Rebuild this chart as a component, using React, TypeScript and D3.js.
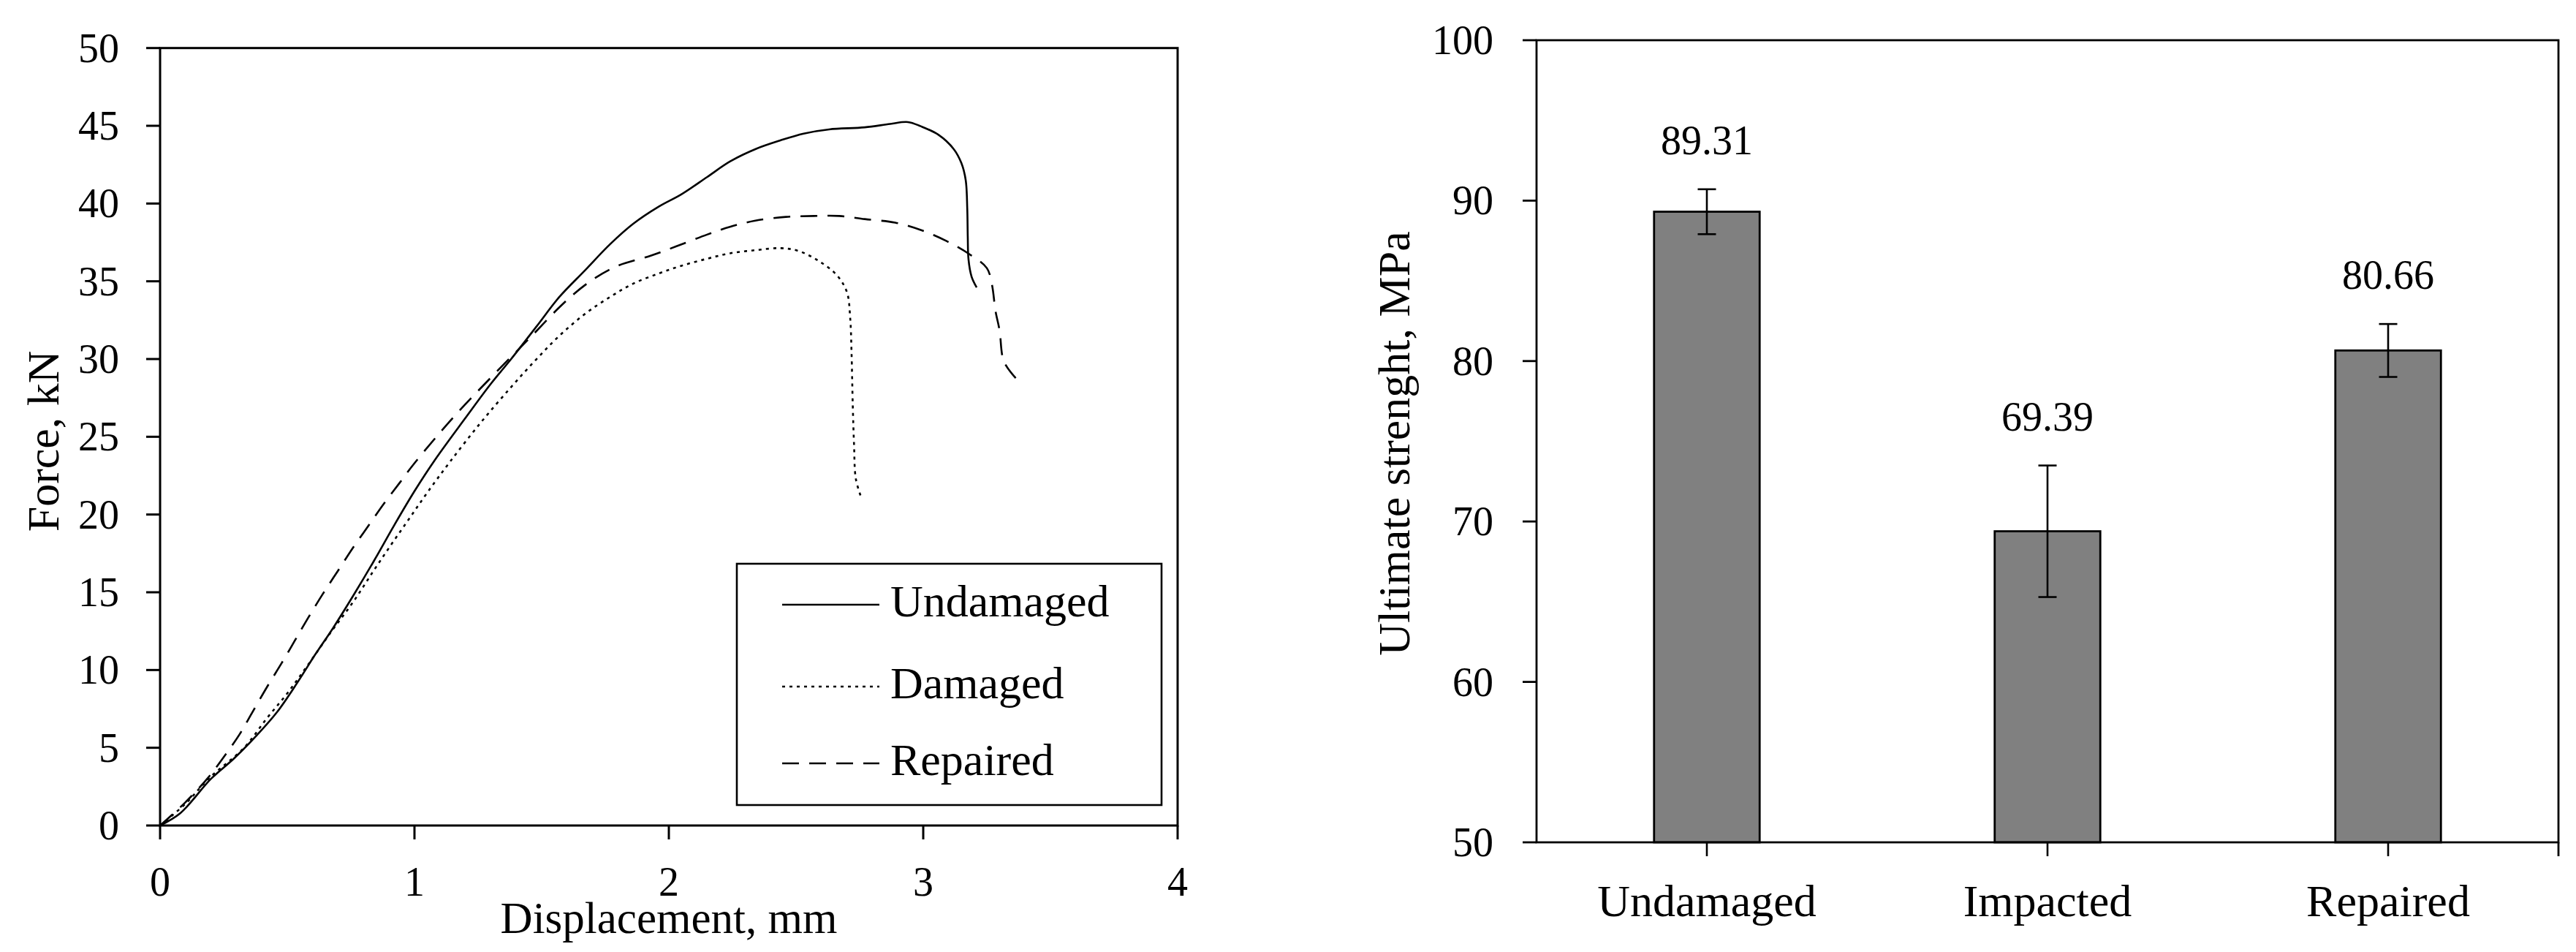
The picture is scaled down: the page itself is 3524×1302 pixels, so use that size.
import React from "react";
import * as d3 from "d3";

// ---------- Left chart data (Displacement mm, Force kN) ----------
const undamaged: [number, number][] = [
  [0, 0], [0.08, 0.8], [0.2, 3.0], [0.29, 4.3], [0.38, 5.8], [0.46, 7.3], [0.54, 9.2],
  [0.61, 11.0], [0.68, 12.7], [0.76, 14.8], [0.84, 17.0], [0.92, 19.3], [1.0, 21.5],
  [1.08, 23.5], [1.2, 26.2], [1.3, 28.4], [1.38, 30.0], [1.48, 32.1], [1.57, 34.0],
  [1.67, 35.7], [1.77, 37.4], [1.86, 38.7], [1.96, 39.8], [2.05, 40.6], [2.15, 41.7],
  [2.24, 42.7], [2.34, 43.5], [2.44, 44.07], [2.53, 44.5], [2.63, 44.77], [2.77, 44.9],
  [2.87, 45.12], [2.94, 45.24], [2.99, 44.97], [3.06, 44.42], [3.12, 43.5], [3.15, 42.6],
  [3.167, 41.5], [3.173, 39.7], [3.175, 37.9], [3.178, 36.4], [3.19, 35.3], [3.21, 34.6],
];

const damaged: [number, number][] = [
  [0, 0], [0.1, 1.4], [0.19, 3.0], [0.33, 5.0], [0.42, 6.9], [0.5, 8.5], [0.58, 10.3],
  [0.67, 12.4], [0.76, 14.4], [0.84, 16.4], [0.91, 18.1], [0.98, 19.75], [1.05, 21.4],
  [1.14, 23.4], [1.26, 25.9], [1.38, 28.2], [1.48, 30.0], [1.57, 31.5], [1.67, 32.9],
  [1.77, 34.0], [1.86, 34.85], [1.96, 35.5], [2.05, 36.0], [2.15, 36.45], [2.24, 36.8],
  [2.34, 37.0], [2.44, 37.13], [2.51, 36.95], [2.59, 36.3], [2.66, 35.4], [2.7, 34.3],
  [2.713, 32.6], [2.718, 30.5], [2.723, 27.0], [2.728, 24.5], [2.735, 22.3], [2.756, 21.1],
];

const repaired: [number, number][] = [
  [0, 0], [0.1, 1.5], [0.19, 3.1], [0.25, 4.4], [0.31, 5.8], [0.36, 7.2], [0.42, 8.9],
  [0.48, 10.5], [0.53, 11.9], [0.58, 13.3], [0.64, 14.9], [0.7, 16.4], [0.76, 17.9],
  [0.82, 19.3], [0.88, 20.7], [0.94, 22.0], [1.0, 23.3], [1.15, 26.2], [1.3, 28.8],
  [1.45, 31.3], [1.6, 33.8], [1.7, 35.1], [1.8, 36.0], [1.92, 36.6], [2.03, 37.25],
  [2.15, 38.0], [2.24, 38.5], [2.34, 38.9], [2.46, 39.14], [2.57, 39.2], [2.67, 39.2],
  [2.77, 39.0], [2.89, 38.77], [2.99, 38.3], [3.09, 37.6], [3.18, 36.76], [3.25, 35.85],
  [3.27, 34.8], [3.284, 33.1], [3.3, 31.85], [3.317, 29.85], [3.365, 28.75],
];

const lineNames = ["Undamaged", "Damaged", "Repaired"];
const xTicksL = [0, 1, 2, 3, 4];
const yTicksL = [0, 5, 10, 15, 20, 25, 30, 35, 40, 45, 50];

// ---------- Right chart data ----------
const categories = ["Undamaged", "Impacted", "Repaired"];
const strengths = [89.31, 69.39, 80.66];
const strengthErrors = [1.4, 4.1, 1.65];
const yTicksR = [50, 60, 70, 80, 90, 100];

const FONT = "'Liberation Serif', 'Times New Roman', serif";

export default function App() {
  // Left chart scales
  const xL = d3.scaleLinear().domain([0, 4]).range([219, 1611]);
  const yL = d3.scaleLinear().domain([0, 50]).range([1129, 65.7]);
  const line = d3
    .line<[number, number]>()
    .x((d) => xL(d[0]))
    .y((d) => yL(d[1]))
    .curve(d3.curveCatmullRom.alpha(0.5));

  const series = [
    { data: undamaged, dash: undefined as string | undefined },
    { data: damaged, dash: "4,6" },
    { data: repaired, dash: "23,14" },
  ];

  // Right chart scales
  const xR = d3.scaleBand<string>().domain(categories).range([2102, 3500]).padding(0);
  const yR = d3.scaleLinear().domain([50, 100]).range([1152, 55]);
  const barW = xR.bandwidth() * 0.31;

  const legendX = 1008;
  const legendY = 771;
  const legendRows = [827, 939, 1044];

  return (
    <svg
      width={3524}
      height={1302}
      viewBox="0 0 3524 1302"
      style={{ position: "absolute", left: 0, top: 0, background: "#fff" }}
      fontFamily={FONT}
    >
      <rect x={0} y={0} width={3524} height={1302} fill="#fff" />

      {/* ===== Left chart ===== */}
      <g>
        {series.map((s, i) => (
          <path
            key={i}
            d={line(s.data) || ""}
            fill="none"
            stroke="#000"
            strokeWidth={2.6}
            strokeDasharray={s.dash}
          />
        ))}
        <rect
          x={xL(0)}
          y={yL(50)}
          width={xL(4) - xL(0)}
          height={yL(0) - yL(50)}
          fill="none"
          stroke="#000"
          strokeWidth={3}
        />
        {yTicksL.map((t) => (
          <g key={t}>
            <line x1={xL(0) - 19} x2={xL(0)} y1={yL(t)} y2={yL(t)} stroke="#000" strokeWidth={3} />
            <text x={163} y={yL(t) + 19} textAnchor="end" fontSize={56} fill="#000">
              {t}
            </text>
          </g>
        ))}
        {xTicksL.map((t) => (
          <g key={t}>
            <line x1={xL(t)} x2={xL(t)} y1={yL(0)} y2={yL(0) + 19} stroke="#000" strokeWidth={3} />
            <text x={xL(t)} y={1225} textAnchor="middle" fontSize={56} fill="#000">
              {t}
            </text>
          </g>
        ))}
        <text x={(xL(0) + xL(4)) / 2} y={1276} textAnchor="middle" fontSize={61} fill="#000">
          Displacement, mm
        </text>
        <text
          transform={`translate(80, ${(yL(0) + yL(50)) / 2 + 6}) rotate(-90)`}
          textAnchor="middle"
          fontSize={62}
          fill="#000"
        >
          Force, kN
        </text>

        {/* Legend */}
        <rect x={legendX} y={legendY} width={581} height={330} fill="#fff" stroke="#000" strokeWidth={2.6} />
        {lineNames.map((n, i) => (
          <g key={n}>
            <line
              x1={1070}
              x2={1203}
              y1={legendRows[i]}
              y2={legendRows[i]}
              stroke="#000"
              strokeWidth={2.6}
              strokeDasharray={series[i].dash}
            />
            <text x={1218} y={legendRows[i] + 16} fontSize={62} fill="#000">
              {n}
            </text>
          </g>
        ))}
      </g>

      {/* ===== Right chart ===== */}
      <g>
        {categories.map((c, i) => {
          const cx = (xR(c) as number) + xR.bandwidth() / 2;
          const v = strengths[i];
          const e = strengthErrors[i];
          return (
            <g key={c}>
              <rect
                x={cx - barW / 2}
                y={yR(v)}
                width={barW}
                height={yR(50) - yR(v)}
                fill="#808080"
                stroke="#000"
                strokeWidth={2.8}
              />
              <line x1={cx} x2={cx} y1={yR(v + e)} y2={yR(v - e)} stroke="#000" strokeWidth={2.6} />
              <line x1={cx - 12.5} x2={cx + 12.5} y1={yR(v + e)} y2={yR(v + e)} stroke="#000" strokeWidth={2.6} />
              <line x1={cx - 12.5} x2={cx + 12.5} y1={yR(v - e)} y2={yR(v - e)} stroke="#000" strokeWidth={2.6} />
              <text x={cx} y={yR(v + e) - 48} textAnchor="middle" fontSize={56} fill="#000">
                {d3.format(".2f")(v)}
              </text>
              <line x1={cx} x2={cx} y1={yR(50)} y2={yR(50) + 19} stroke="#000" strokeWidth={2.6} />
              <text x={cx} y={1253} textAnchor="middle" fontSize={62} fill="#000">
                {c}
              </text>
            </g>
          );
        })}
        <rect
          x={2102}
          y={yR(100)}
          width={3500 - 2102}
          height={yR(50) - yR(100)}
          fill="none"
          stroke="#000"
          strokeWidth={2.8}
        />
        <line x1={3500} x2={3500} y1={yR(50)} y2={yR(50) + 19} stroke="#000" strokeWidth={2.8} />
        {yTicksR.map((t) => (
          <g key={t}>
            <line x1={2083} x2={2102} y1={yR(t)} y2={yR(t)} stroke="#000" strokeWidth={2.8} />
            <text x={2043} y={yR(t) + 19} textAnchor="end" fontSize={56} fill="#000">
              {t}
            </text>
          </g>
        ))}
        <text
          transform={`translate(1928, ${(yR(50) + yR(100)) / 2 + 3}) rotate(-90)`}
          textAnchor="middle"
          fontSize={62}
          fill="#000"
        >
          Ultimate strenght, MPa
        </text>
      </g>
    </svg>
  );
}
